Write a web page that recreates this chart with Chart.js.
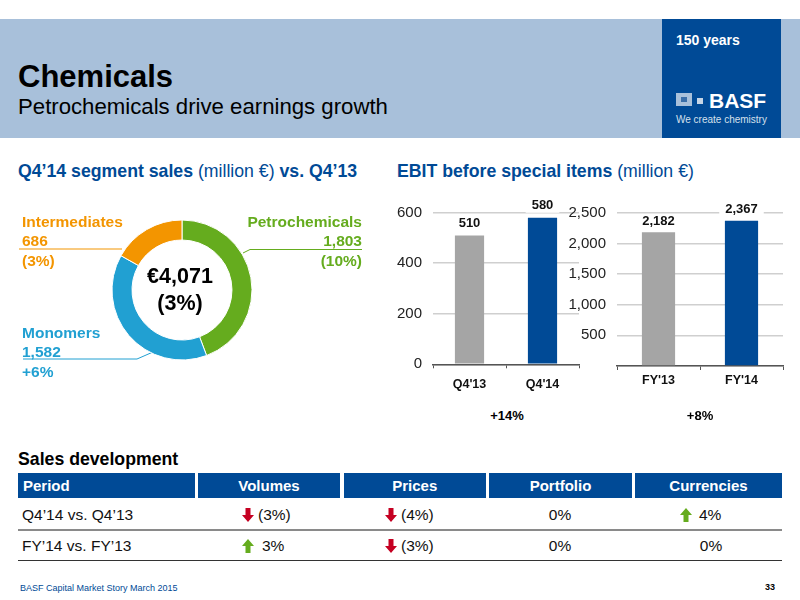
<!DOCTYPE html>
<html><head><meta charset="utf-8">
<script src="https://cdn.jsdelivr.net/npm/chart.js@4"></script>
<style>
html,body{margin:0;padding:0;background:#fff;width:800px;height:600px;overflow:hidden}
body{font-family:"Liberation Sans",Arial,sans-serif;position:relative}
.a{position:absolute;white-space:nowrap;line-height:1}
canvas{position:absolute}
.c{transform:translate(-50%,-50%)}
.m{transform:translateY(-50%)}
.r{transform:translate(-100%,-50%)}
.hd{position:absolute;top:473px;height:25px;background:#004a96;color:#fff;font-weight:bold;font-size:15px;line-height:25px;text-align:center}
</style></head><body>
<div class="a" style="left:0;top:19px;width:800px;height:119px;background:#a8c0da"></div>
<div class="a" style="left:662px;top:19px;width:119px;height:119px;background:#004a96"></div>
<div class="a m" style="left:18px;top:76px;font-size:31px;font-weight:bold;color:#000">Chemicals</div>
<div class="a m" style="left:18px;top:107px;font-size:22.2px;color:#000">Petrochemicals drive earnings growth</div>
<div class="a m" style="left:676px;top:40px;font-size:14px;font-weight:bold;color:#fff">150 years</div>
<div class="a" style="left:676px;top:93px;width:16px;height:13px;background:#a8c0da"></div>
<div class="a" style="left:681px;top:97px;width:6px;height:5px;background:#3a6ea8"></div>
<div class="a" style="left:697px;top:98px;width:6px;height:6px;background:#c5d5e6"></div>
<div class="a m" style="left:709px;top:100px;font-size:21px;font-weight:bold;color:#fff">BASF</div>
<div class="a m" style="left:676px;top:120px;font-size:10px;color:#d5e0ec">We create chemistry</div>

<div class="a m" style="left:18px;top:172px;font-size:17.7px;color:#004a96"><b>Q4’14 segment sales</b> (million €) <b>vs. Q4’13</b></div>
<div class="a m" style="left:397px;top:172px;font-size:17.7px;color:#004a96"><b>EBIT before special items</b> (million €)</div>

<svg class="a" style="left:0;top:0" width="800" height="600" fill="none" stroke-width="1">
<path d="M19 249H122" stroke="#f39500"/>
<path d="M362 249.5H250L243 253" stroke="#65ac1e"/>
<path d="M23 359H137L153 352" stroke="#21a0d2"/>
</svg>
<canvas id="donut" width="164" height="160" style="left:100px;top:210px;width:164px;height:160px"></canvas>
<div id="seg"></div>
<div class="a c" style="left:180px;top:277px;font-size:21.5px;font-weight:bold;color:#000">€4,071</div>
<div class="a c" style="left:180px;top:304px;font-size:21.5px;font-weight:bold;color:#000">(3%)</div>

<canvas id="q" width="195" height="215" style="left:390px;top:190px;width:195px;height:215px"></canvas>
<canvas id="fy" width="225" height="215" style="left:565px;top:190px;width:225px;height:215px"></canvas>
<div class="a c" style="left:507px;top:415px;font-size:13px;font-weight:bold;color:#000">+14%</div>
<div class="a c" style="left:700px;top:415px;font-size:13px;font-weight:bold;color:#000">+8%</div>

<div class="a m" style="left:18px;top:460px;font-size:17.7px;font-weight:bold;color:#000">Sales development</div>
<div id="table"></div>
<div class="a" style="left:18px;top:529px;width:764px;height:2px;background:#8a8a8a"></div>
<div class="a" style="left:18px;top:559.5px;width:764px;height:1.5px;background:#333"></div>
<div class="a m" style="left:20px;top:588px;font-size:9px;color:#004a96">BASF Capital Market Story March 2015</div>
<div class="a r" style="left:775px;top:587px;font-size:9px;font-weight:bold;color:#000">33</div>

<script>
const segmentNames=["Petrochemicals","Monomers","Intermediates"];
const segmentSales=[1803,1582,686];
const segmentChange=["(10%)","+6%","(3%)"];
const segmentColors=["#65ac1e","#21a0d2","#f39500"];
const quarterLabels=["Q4'13","Q4'14"];
const quarterEbit=[510,580];
const yearLabels=["FY'13","FY'14"];
const yearEbit=[2182,2367];
const barColors=["#a5a5a5","#004a96"];
const tableHead=["Period","Volumes","Prices","Portfolio","Currencies"];
const tableRows=[
 ["Q4’14 vs. Q4’13",["down","(3%)"],["down","(4%)"],["","0%"],["up","4%"]],
 ["FY’14 vs. FY’13",["up","3%"],["down","(3%)"],["","0%"],["","0%"]]
];

const fmt=v=>Number(v).toLocaleString("en-US");
const FONT='"Liberation Sans",Arial,sans-serif';

const segPos=[{x:362,y:222,right:true},{x:22,y:333},{x:22,y:222}];
let h="";
segmentNames.forEach((n,i)=>{
  const p=segPos[i],cls=p.right?"r":"m";
  [n,fmt(segmentSales[i]),segmentChange[i]].forEach((t,k)=>{
    h+=`<div class="a ${cls}" style="left:${p.x}px;top:${p.y+k*19.3}px;font-size:15.5px;font-weight:bold;color:${segmentColors[i]}">${t}</div>`;
  });
});
document.getElementById("seg").innerHTML=h;

const cols=[[18,177],[198,142],[343.5,142.5],[489,143],[635,147]];
const arrowX=[null,248,391,null,686];
const textLeft={down:[null,258,401,null,null],up:[null,262,null,null,699]};
const centerX=[null,null,null,560,711];
const rowY=[515,546];
const arrow=(dir,x,y)=>{
  const col=dir=="up"?"#65ac1e":"#c50022";
  const path=dir=="up"?"M6 0L12 7H8.5V14H3.5V7H0Z":"M3.5 0H8.5V7H12L6 14L0 7H3.5Z";
  return `<svg class="a" style="left:${x-6}px;top:${y-7.5}px" width="12" height="14"><path d="${path}" fill="${col}"/></svg>`;
};
let t="";
tableHead.forEach((c,i)=>{
  const al=i==0?"text-align:left;padding-left:5px;":"";
  const w=i==0?cols[i][1]-5:cols[i][1];
  t+=`<div class="hd" style="left:${cols[i][0]}px;width:${w}px;${al}">${c}</div>`;
});
tableRows.forEach((row,r)=>{
  const y=rowY[r];
  t+=`<div class="a m" style="left:22px;top:${y}px;font-size:15.5px;color:#111">${row[0]}</div>`;
  for(let i=1;i<5;i++){
    const [d,v]=row[i];
    if(d){
      t+=arrow(d,arrowX[i],y);
      t+=`<div class="a m" style="left:${textLeft[d][i]}px;top:${y}px;font-size:15.5px;color:#111">${v}</div>`;
    }else{
      t+=`<div class="a c" style="left:${centerX[i]}px;top:${y}px;font-size:15.5px;color:#111">${v}</div>`;
    }
  }
});
document.getElementById("table").innerHTML=t;

new Chart(document.getElementById("donut"),{
  type:"doughnut",
  data:{labels:segmentNames,datasets:[{data:segmentSales,backgroundColor:segmentColors,borderColor:"#fff",borderWidth:1}]},
  options:{responsive:false,animation:false,radius:70,cutout:"71.4%",rotation:0,
    layout:{padding:0},plugins:{legend:{display:false},tooltip:{enabled:false}}}
});

const valueLabels={id:"valueLabels",afterDatasetsDraw(c,_,o){
  const x=c.ctx,m=c.getDatasetMeta(0);
  x.save();x.font="bold 13px "+FONT;x.textAlign="center";x.textBaseline="middle";
  m.data.forEach((b,i)=>{
    const s=fmt(c.data.datasets[0].data[i]),w=x.measureText(s).width+12,y=b.y-o.gap;
    x.fillStyle="#fff";x.fillRect(b.x-w/2,y-7,w,14);
    x.fillStyle="#111";x.fillText(s,b.x,y);
  });
  x.restore();
}};

function bars(id,labels,values,max,step,axisW,xH,padR,padT,gap,xPad,hideZero){
  new Chart(document.getElementById(id),{
    type:"bar",plugins:[valueLabels],
    data:{labels,datasets:[{data:values,backgroundColor:barColors,barPercentage:.4,categoryPercentage:1}]},
    options:{responsive:false,animation:false,
      layout:{padding:{top:padT,right:padR,left:0,bottom:0}},
      plugins:{legend:{display:false},tooltip:{enabled:false},valueLabels:{gap}},
      scales:{
        y:{min:0,max,ticks:{stepSize:step,color:"#222",font:{size:15,family:FONT},padding:11,
             callback:v=>hideZero&&v===0?"":fmt(v)},
           grid:{color:"#cfcfcf",lineWidth:1.5,drawTicks:false},border:{display:false},
           afterFit:s=>{s.width=axisW}},
        x:{ticks:{color:"#111",font:{size:12.5,weight:"bold",family:FONT},padding:xPad,maxRotation:0},
           grid:{drawOnChartArea:false,drawTicks:true,tickLength:4,color:"#555",lineWidth:1},
           border:{color:"#555",width:1.5},
           afterFit:s=>{s.height=xH}}
      }}
  });
}
bars("q",quarterLabels,quarterEbit,600,200,43,40.7,6,22.7,12,9,false);
bars("fy",yearLabels,yearEbit,2500,500,52,39,7,22.7,11,3,true);
</script>
</body></html>
